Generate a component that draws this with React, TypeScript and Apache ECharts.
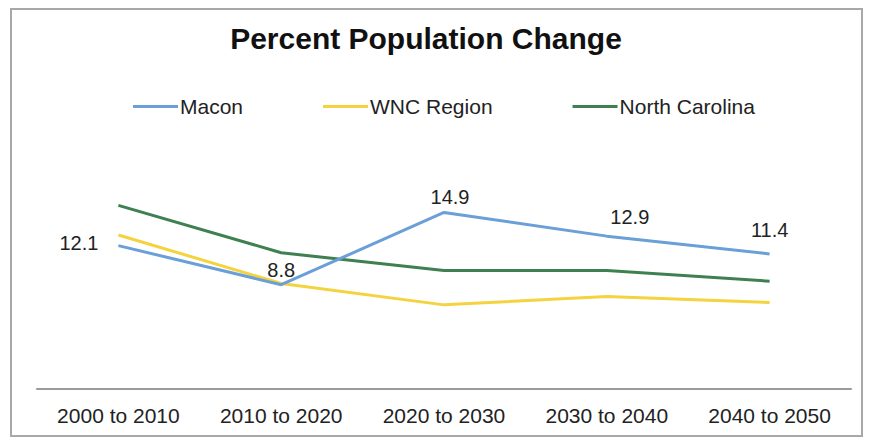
import React, { useEffect, useRef } from "react";
import * as echarts from "echarts";

const categories = ["2000 to 2010", "2010 to 2020", "2020 to 2030", "2030 to 2040", "2040 to 2050"];
const maconValues = [12.1, 8.8, 14.9, 12.9, 11.4];
const wncValues = [13.0, 8.9, 7.1, 7.8, 7.3];
const ncValues = [15.5, 11.5, 10.0, 10.0, 9.1];
const seriesNames = ["Macon", "WNC Region", "North Carolina"];

export default function App() {
  const ref = useRef<HTMLDivElement>(null);
  useEffect(() => {
    document.body.style.margin = "0";
    const chart = echarts.init(ref.current!, null, { renderer: "svg" });
    const font = "'Liberation Sans', Arial, sans-serif";
    const labelOpts = [
      { position: "left", distance: 20, offset: [0, -3] },
      { position: "top", offset: [0, 0] },
      { position: "top", offset: [6, 0] },
      { position: "top", offset: [23, -4] },
      { position: "top", offset: [0, -9] },
    ];
    chart.setOption({
      animation: false,
      backgroundColor: "#ffffff",
      textStyle: { fontFamily: font },
      graphic: [
        {
          type: "rect",
          shape: { x: 11, y: 9, width: 851, height: 427 },
          style: { fill: "none", stroke: "#a8a8a8", lineWidth: 2 },
          silent: true,
        },
      ],
      title: {
        text: "Percent Population Change",
        left: 421,
        textAlign: "center",
        top: 18,
        textStyle: { fontFamily: font, fontSize: 30, fontWeight: "bold", color: "#111" },
      },
      legend: {
        data: seriesNames,
        top: 91,
        left: 128,
        icon: "rect",
        itemWidth: 45,
        itemHeight: 3,
        itemGap: 80,
        textStyle: { fontFamily: font, fontSize: 21, color: "#222", padding: [0, 0, 0, -3] },
      },
      grid: { left: 37, right: 25, top: 152, bottom: 50, containLabel: false },
      xAxis: {
        type: "category",
        data: categories,
        boundaryGap: true,
        axisLine: { lineStyle: { color: "#9a9a9a", width: 2 } },
        axisTick: { show: false },
        axisLabel: { fontFamily: font, fontSize: 21, color: "#222", margin: 16 },
      },
      yAxis: {
        type: "value",
        min: 0,
        max: 20,
        show: false,
        splitLine: { show: false },
      },
      series: [
        {
          name: "Macon",
          type: "line",
          data: maconValues.map((v, i) => ({ value: v, label: labelOpts[i] })),
          symbol: "circle",
          symbolSize: 0,
          showSymbol: true,
          lineStyle: { color: "#6a9fd8", width: 3 },
          itemStyle: { color: "#6a9fd8" },
          label: {
            show: true,
            fontFamily: font,
            fontSize: 20,
            color: "#222",
            distance: 5,
          },
          z: 3,
        },
        {
          name: "WNC Region",
          type: "line",
          data: wncValues,
          symbol: "none",
          lineStyle: { color: "#f4d33f", width: 3 },
          itemStyle: { color: "#f4d33f" },
          z: 2,
        },
        {
          name: "North Carolina",
          type: "line",
          data: ncValues,
          symbol: "none",
          lineStyle: { color: "#3f8050", width: 3 },
          itemStyle: { color: "#3f8050" },
          z: 2,
        },
      ],
    });
    return () => chart.dispose();
  }, []);
  return <div ref={ref} style={{ position: "absolute", left: 0, top: 0, width: 876, height: 439 }} />;
}
